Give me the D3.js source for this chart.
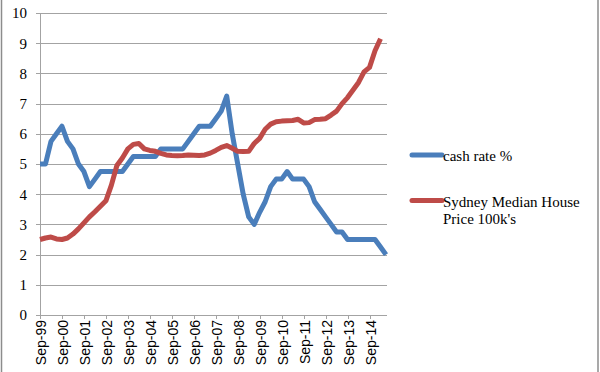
<!DOCTYPE html>
<html>
<head>
<meta charset="utf-8">
<script src="https://cdn.jsdelivr.net/npm/d3@7"></script>
<style>
    body { margin: 0; background: #fff; }
</style>
</head>
<body>
<div id="chart"></div>
<script>
// Quarterly series starting Sep-99
const tickLabels = ["Sep-99", "Sep-00", "Sep-01", "Sep-02", "Sep-03", "Sep-04", "Sep-05", "Sep-06",
    "Sep-07", "Sep-08", "Sep-09", "Sep-10", "Sep-11", "Sep-12", "Sep-13", "Sep-14"];

const cashRate = [5.0, 5.0, 5.75, 6.0, 6.25, 5.75, 5.5, 5.0, 4.75, 4.25, 4.5, 4.75,
    4.75, 4.75, 4.75, 4.75, 5.0, 5.25, 5.25, 5.25, 5.25, 5.25, 5.5, 5.5,
    5.5, 5.5, 5.5, 5.75, 6.0, 6.25, 6.25, 6.25, 6.5, 6.75, 7.25, 6.0,
    5.0, 4.0, 3.25, 3.0, 3.4, 3.75, 4.25, 4.5, 4.5, 4.75, 4.5, 4.5,
    4.5, 4.25, 3.75, 3.5, 3.25, 3.0, 2.75, 2.75, 2.5, 2.5, 2.5, 2.5,
    2.5, 2.5, 2.25, 2.0];

const housePrice = [2.5, 2.55, 2.58, 2.52, 2.5, 2.55, 2.68, 2.85, 3.05, 3.25, 3.42, 3.6,
    3.78, 4.3, 4.95, 5.2, 5.5, 5.65, 5.68, 5.5, 5.45, 5.42, 5.35, 5.3,
    5.28, 5.27, 5.28, 5.3, 5.29, 5.28, 5.3, 5.36, 5.45, 5.55, 5.61, 5.52,
    5.42, 5.41, 5.42, 5.68, 5.85, 6.15, 6.32, 6.4, 6.42, 6.43, 6.44, 6.48,
    6.36, 6.37, 6.47, 6.48, 6.5, 6.62, 6.75, 7.0, 7.2, 7.45, 7.7, 8.05,
    8.2, 8.75, 9.15];

const yTicks = [0, 1, 2, 3, 4, 5, 6, 7, 8, 9, 10];

const series = [
    { label: ["cash rate %"], color: "#4a7ebb", values: cashRate },
    { label: ["Sydney Median House", "Price 100k's"], color: "#be4b48", values: housePrice }
];

const width = 600, height = 372;
const svg = d3.select("#chart")
    .append("svg")
    .attr("width", width)
    .attr("height", height);

// Chart border (only the sides are visible)
svg.append("line").attr("x1", 1.5).attr("x2", 1.5).attr("y1", 0).attr("y2", height)
    .attr("stroke", "#8c8c8c").attr("stroke-width", 1.5);
svg.append("line").attr("x1", 598).attr("x2", 598).attr("y1", 0).attr("y2", height)
    .attr("stroke", "#8c8c8c").attr("stroke-width", 1.5);

// Scales
const xScale = d3.scaleLinear().domain([0, cashRate.length - 1]).range([40, 386]);
const yScale = d3.scaleLinear().domain([0, 10]).range([315, 13]);

// Horizontal gridlines
svg.append("g")
    .selectAll("line")
    .data(yTicks)
    .join("line")
    .attr("x1", 36)
    .attr("x2", 387)
    .attr("y1", d => Math.round(yScale(d)) + 0.5)
    .attr("y2", d => Math.round(yScale(d)) + 0.5)
    .attr("stroke", "#a3a3a3")
    .attr("stroke-width", 1);

// Y axis line and labels
svg.append("line")
    .attr("x1", 40.5).attr("x2", 40.5)
    .attr("y1", yScale(10)).attr("y2", yScale(0))
    .attr("stroke", "#a3a3a3");

svg.append("g")
    .selectAll("text")
    .data(yTicks)
    .join("text")
    .attr("x", 27)
    .attr("y", d => yScale(d))
    .attr("dy", "0.36em")
    .attr("text-anchor", "end")
    .style("font-family", "'Liberation Serif', serif")
    .style("font-size", "15px")
    .attr("fill", "#000")
    .text(d => d);

// X axis ticks and rotated labels
const tickIdx = tickLabels.map((_, i) => i * 4);
const xAxis = svg.append("g");
xAxis.selectAll("line")
    .data(tickIdx)
    .join("line")
    .attr("x1", d => Math.round(xScale(d)) + 0.5)
    .attr("x2", d => Math.round(xScale(d)) + 0.5)
    .attr("y1", yScale(0))
    .attr("y2", yScale(0) + 4)
    .attr("stroke", "#a3a3a3");

xAxis.selectAll("text")
    .data(tickIdx)
    .join("text")
    .attr("transform", d => `translate(${xScale(d) + 6}, 320) rotate(-90)`)
    .attr("text-anchor", "end")
    .style("font-family", "'Liberation Sans', sans-serif")
    .style("font-size", "14px")
    .attr("fill", "#000")
    .text((d, i) => tickLabels[i]);

// Lines
const line = d3.line()
    .x((d, i) => xScale(i))
    .y(d => yScale(d));

series.forEach(s => {
    svg.append("path")
        .datum(s.values)
        .attr("fill", "none")
        .attr("stroke", s.color)
        .attr("stroke-width", 5)
        .attr("stroke-linejoin", "round")
        .attr("d", line);
});

// Legend
const legend = svg.append("g");
const legendY = [155, 200.5];
series.forEach((s, i) => {
    legend.append("line")
        .attr("x1", 412).attr("x2", 442)
        .attr("y1", legendY[i]).attr("y2", legendY[i])
        .attr("stroke", s.color)
        .attr("stroke-width", 5)
        .attr("stroke-linecap", "round");
    s.label.forEach((t, j) => {
        legend.append("text")
            .attr("x", 443)
            .attr("y", legendY[i] + 6 + j * 17.5)
            .style("font-family", "'Liberation Serif', serif")
            .style("font-size", "15px")
            .attr("fill", "#000")
            .text(t);
    });
});
</script>
</body>
</html>
